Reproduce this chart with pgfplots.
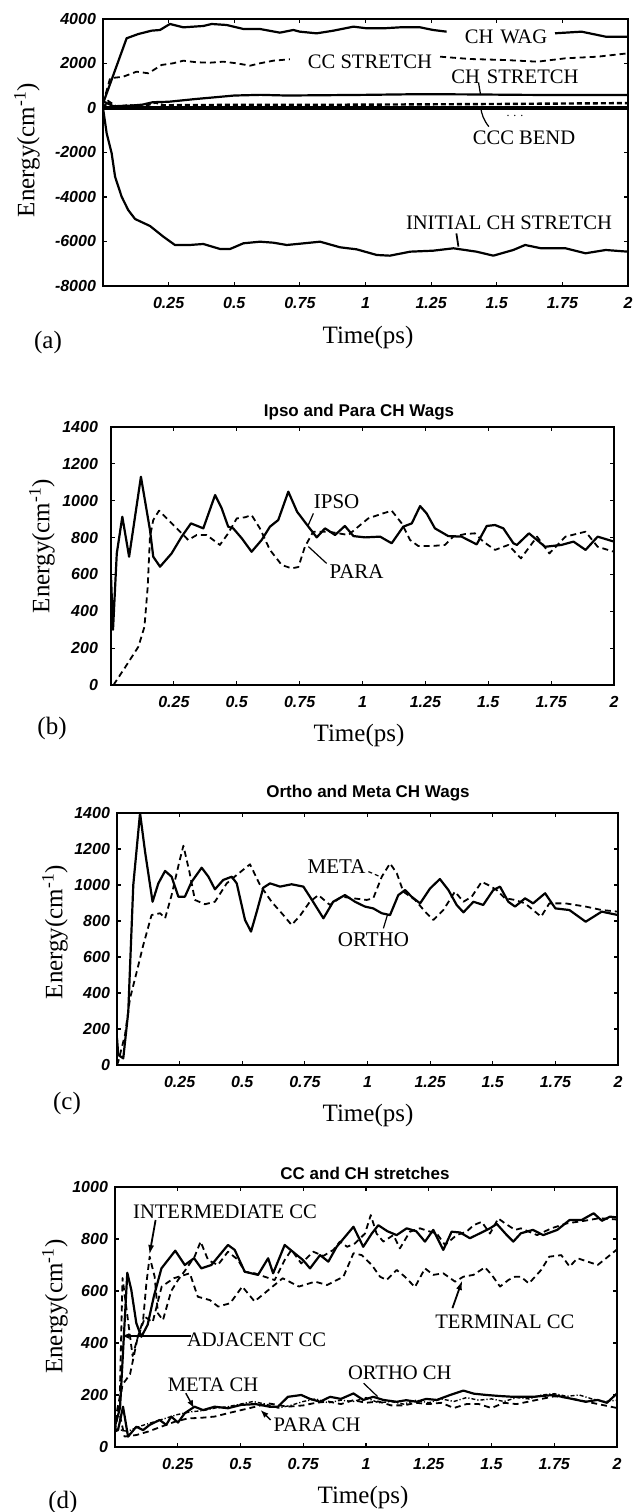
\documentclass[border=0pt]{standalone}
\usepackage{fontspec}
\setmainfont{Liberation Serif}
\newfontfamily\tickfont{Liberation Sans}
\usepackage{pgfplots}
\pgfplotsset{compat=1.18}
\usetikzlibrary{arrows.meta}

\newcommand{\annot}{\fontsize{10.3}{12}\selectfont}
\newcommand{\annotb}{\fontsize{10.5}{12}\selectfont}
\newcommand{\axlab}{\fontsize{12.5}{14}\selectfont}
\newcommand{\ttl}{\tickfont\bfseries\fontsize{8.5}{10}\selectfont}

\pgfplotsset{
  panel/.style={
    scale only axis, anchor=south west,
    xmin=0, xmax=2,
    xtick={0.25,0.5,0.75,1,1.25,1.5,1.75,2},
    xticklabels={0.25,0.5,0.75,1,1.25,1.5,1.75,2},
    tick align=inside, major tick length=2pt,
    axis line style={line width=1pt},
    every tick/.style={black, line width=0.6pt},
    tick label style={font=\tickfont\fontsize{8}{9}\selectfont\bfseries\itshape},
    xticklabel style={yshift=-2pt},
  },
  solidc/.style={black, line width=1.1pt, line join=round},
  dashc/.style={black, line width=0.9pt, line join=round, dash pattern=on 3pt off 2pt},
}

\begin{document}
\begin{tikzpicture}
\path[use as bounding box] (0,0) rectangle (316.5pt,756pt);

% ---------- (a)
\begin{axis}[panel, at={(51.5pt,613pt)}, width=262.5pt, height=133.5pt,
  ymin=-8000, ymax=4000,
  ytick={-8000,-6000,-4000,-2000,0,2000,4000},
  yticklabels={-8000,-6000,-4000,-2000,0,2000,4000}]
\addplot[solidc] coordinates {(0,200) (0.09,3133) (0.135,3326) (0.185,3475) (0.217,3505) (0.255,3775) (0.306,3625) (0.382,3685) (0.414,3775) (0.471,3730) (0.535,3550) (0.598,3550) (0.674,3385) (0.725,3505) (0.75,3430) (0.814,3355) (0.878,3475) (0.954,3655) (1.005,3580) (1.068,3580) (1.131,3625) (1.208,3625) (1.258,3505) (1.309,3430)};
\addplot[solidc] coordinates {(1.722,3357) (1.823,3430) (1.915,3205) (2.0,3205)};
\addplot[dashc] coordinates {(0,200) (0.027,1335) (0.077,1407) (0.128,1632) (0.173,1560) (0.223,1933) (0.267,2009) (0.306,2126) (0.357,2054) (0.408,2036) (0.458,2081) (0.509,2009) (0.56,1901) (0.598,2009) (0.649,2126) (0.712,2189)};
\addplot[dashc] coordinates {(1.284,2306) (1.4,2200) (1.531,2157) (1.655,2081) (1.762,2233) (1.885,2306) (2.0,2458)};
\addplot[solidc] coordinates {(0,300) (0.04,80) (0.1,100) (0.15,150) (0.19,260) (0.25,280) (0.35,400) (0.5,560) (0.6,590) (0.7,560) (0.8,570) (0.9,580) (1.0,590) (1.2,620) (1.4,610) (1.6,590) (1.8,580) (2.0,580)};
\addplot[black, line width=1.2pt, dash pattern=on 2.5pt off 1.5pt] coordinates {(0,0) (0.02,300) (0.05,60) (0.1,120) (0.15,60) (0.2,250) (0.23,120) (0.3,130) (0.5,140) (0.7,140) (1.0,150) (1.25,165) (1.5,180) (1.75,200) (2.0,220)};
\addplot[black, line width=1.6pt] coordinates {(0,0) (2,0)};
\addplot[solidc] coordinates {(0,0) (0.014,-1137) (0.033,-2036) (0.046,-3088) (0.071,-3987) (0.096,-4584) (0.122,-4989) (0.179,-5303) (0.23,-5784) (0.274,-6157) (0.331,-6157) (0.382,-6112) (0.446,-6337) (0.484,-6337) (0.535,-6081) (0.598,-6009) (0.649,-6054) (0.7,-6157) (0.75,-6100) (0.827,-6009) (0.903,-6261) (0.966,-6352) (1.043,-6607) (1.093,-6637) (1.17,-6458) (1.258,-6413) (1.335,-6306) (1.423,-6458) (1.487,-6637) (1.563,-6382) (1.608,-6157) (1.669,-6306) (1.762,-6306) (1.838,-6530) (1.915,-6382) (2.0,-6458)};
\end{axis}
\node[font=\annot] at (253pt,737.5pt) {CH\,\,WAG};
\node[font=\annot] at (185pt,725pt) {CC STRETCH};
\node[font=\annot] at (257.5pt,717.5pt) {CH\,\,STRETCH};
\draw[line width=0.6pt] (239.3pt,714.5pt) -- (240.3pt,708.5pt);
\node[font=\annot] at (262pt,687pt) {CCC BEND};
\draw[line width=0.6pt] (244.4pt,692.7pt) to[bend left=15] (240.3pt,702.7pt);
\node[font=\fontsize{6}{6}\selectfont] at (257.5pt,698pt) {. . .};
\node[font=\annot] at (254.5pt,644.5pt) {INITIAL CH STRETCH};
\draw[line width=0.9pt] (228.2pt,639.3pt) -- (229.2pt,632.7pt);
\node[font=\axlab] at (184pt,587.5pt) {Time(ps)};
\node[font=\axlab] at (24pt,585pt) {(a)};
\node[font=\axlab, rotate=90] at (13.5pt,681pt) {Energy(cm\textsuperscript{-1})};

% ---------- (b)
\begin{axis}[panel, at={(55.5pt,413.5pt)}, width=251.5pt, height=129pt,
  ymin=0, ymax=1400,
  ytick={0,200,400,600,800,1000,1200,1400},
  yticklabels={0,200,400,600,800,1000,1200,1400},
  yticklabel style={xshift=-3pt}]
\addplot[solidc] coordinates {(0,590) (0.008,300) (0.023,714) (0.045,913) (0.072,696) (0.119,1130) (0.155,841) (0.168,696) (0.195,642) (0.241,714) (0.281,805) (0.318,877) (0.367,850) (0.414,1031) (0.44,959) (0.466,859) (0.486,850) (0.52,796) (0.559,723) (0.599,787) (0.632,859) (0.665,895) (0.705,1049) (0.74,940) (0.785,859) (0.818,801) (0.851,850) (0.891,814) (0.93,863) (0.964,808) (1.01,801) (1.07,805) (1.116,769) (1.162,859) (1.196,877) (1.229,971) (1.255,931) (1.288,850) (1.341,808) (1.394,805) (1.454,763) (1.494,863) (1.527,868) (1.56,850) (1.6,769) (1.614,760) (1.662,823) (1.726,750) (1.791,760) (1.839,778) (1.887,733) (1.935,805) (2.0,778)};
\addplot[dashc] coordinates {(0.01,0) (0.023,27) (0.062,108) (0.109,208) (0.133,316) (0.146,533) (0.155,805) (0.168,895) (0.191,946) (0.228,895) (0.268,841) (0.307,787) (0.341,814) (0.38,814) (0.433,760) (0.466,823) (0.5,904) (0.533,910) (0.559,922) (0.592,850) (0.632,733) (0.679,651) (0.718,633) (0.745,640) (0.771,750) (0.804,832) (0.864,832) (0.944,814) (0.983,859) (1.023,904) (1.07,926) (1.116,946) (1.156,877) (1.189,787) (1.222,754) (1.275,754) (1.328,760) (1.361,805) (1.408,819) (1.447,823) (1.48,778) (1.527,733) (1.58,760) (1.63,687) (1.694,805) (1.743,714) (1.807,805) (1.887,832) (1.935,750) (2.0,723)};
\end{axis}
\node[font=\ttl] at (179.5pt,550pt) {Ipso and Para CH Wags};
\node[font=\annotb] at (168.3pt,505.2pt) {IPSO};
\draw[line width=0.6pt] (156.7pt,499.3pt) -- (153.8pt,492.7pt);
\node[font=\annotb] at (178.3pt,470.2pt) {PARA};
\draw[line width=0.6pt] (163.3pt,474.3pt) -- (154.2pt,482.7pt);
\node[font=\axlab] at (179.5pt,388.5pt) {Time(ps)};
\node[font=\axlab] at (26pt,392pt) {(b)};
\node[font=\axlab, rotate=90] at (21pt,483pt) {Energy(cm\textsuperscript{-1})};

% ---------- (c)
\begin{axis}[panel, at={(58.5pt,223.5pt)}, width=250.5pt, height=126pt,
  ymin=0, ymax=1400,
  ytick={0,200,400,600,800,1000,1200,1400},
  yticklabels={0,200,400,600,800,1000,1200,1400}]
\addplot[solidc] coordinates {(0,150) (0.005,56) (0.025,37) (0.045,296) (0.065,1000) (0.092,1400) (0.112,1185) (0.142,907) (0.165,1009) (0.192,1078) (0.218,1046) (0.245,935) (0.271,935) (0.298,1018) (0.338,1096) (0.365,1046) (0.391,976) (0.424,1028) (0.458,1046) (0.478,1009) (0.511,806) (0.535,741) (0.558,852) (0.584,985) (0.611,1009) (0.651,991) (0.697,1004) (0.744,991) (0.77,935) (0.824,815) (0.863,907) (0.91,944) (0.95,907) (0.99,880) (1.023,870) (1.057,843) (1.09,833) (1.123,944) (1.15,972) (1.176,935) (1.21,898) (1.25,981) (1.289,1033) (1.323,972) (1.356,889) (1.383,848) (1.423,907) (1.462,889) (1.502,972) (1.529,991) (1.562,907) (1.589,880) (1.629,926) (1.661,898) (1.709,954) (1.75,870) (1.806,861) (1.871,796) (1.935,852) (2.0,833)};
\addplot[dashc] coordinates {(0,0) (0.005,19) (0.032,167) (0.052,370) (0.079,519) (0.105,667) (0.138,833) (0.172,843) (0.192,815) (0.218,944) (0.249,1130) (0.265,1218) (0.289,1074) (0.311,917) (0.351,893) (0.391,907) (0.438,1009) (0.478,1056) (0.531,1115) (0.571,1000) (0.617,907) (0.664,833) (0.697,778) (0.731,830) (0.77,907) (0.804,944) (0.85,889) (0.897,935) (0.943,926) (0.997,917) (1.023,926) (1.057,1046) (1.09,1120) (1.117,1065) (1.143,963) (1.19,917) (1.23,852) (1.263,806) (1.303,861) (1.349,963) (1.383,907) (1.416,935) (1.456,1018) (1.482,1000) (1.516,972) (1.549,926) (1.589,917) (1.629,898) (1.693,824) (1.726,898) (1.79,898) (1.871,880) (1.935,861) (2.0,852)};
\end{axis}
\node[font=\ttl] at (184pt,359.5pt) {Ortho and Meta CH Wags};
\node[font=\annotb] at (168.3pt,322.7pt) {META};
\draw[line width=0.6pt, dash pattern=on 2pt off 1.5pt] (184.2pt,320.2pt) -- (190pt,317.7pt);
\node[font=\annotb] at (186.7pt,286pt) {ORTHO};
\draw[line width=0.6pt] (191.7pt,291.8pt) -- (193.7pt,298.5pt);
\node[font=\axlab] at (184pt,198.5pt) {Time(ps)};
\node[font=\axlab] at (33.5pt,204.5pt) {(c)};
\node[font=\axlab, rotate=90] at (27.5pt,290pt) {Energy(cm\textsuperscript{-1})};

% ---------- (d)
\begin{axis}[panel, at={(57.5pt,32.5pt)}, width=251pt, height=130pt,
  ymin=0, ymax=1000,
  ytick={0,200,400,600,800,1000},
  yticklabels={0,200,400,600,800,1000}]
\addplot[solidc] coordinates {(0,80) (0.02,150) (0.035,420) (0.049,670) (0.065,604) (0.085,476) (0.105,424) (0.13,470) (0.155,580) (0.185,687) (0.24,755) (0.278,700) (0.315,726) (0.344,687) (0.384,700) (0.45,777) (0.477,758) (0.517,674) (0.57,662) (0.61,726) (0.63,668) (0.676,777) (0.716,745) (0.749,719) (0.777,687) (0.817,738) (0.85,713) (0.883,770) (0.95,847) (0.989,770) (1.023,821) (1.049,853) (1.085,830) (1.122,815) (1.162,841) (1.2,830) (1.235,790) (1.268,835) (1.308,758) (1.341,828) (1.375,825) (1.414,803) (1.45,820) (1.494,841) (1.521,858) (1.561,815) (1.587,790) (1.617,822) (1.665,835) (1.706,815) (1.762,835) (1.811,873) (1.859,873) (1.907,899) (1.94,870) (1.972,886) (2.0,883)};
\addplot[dashc] coordinates {(0,100) (0.019,193) (0.03,650) (0.05,500) (0.07,350) (0.09,420) (0.112,488) (0.125,629) (0.138,732) (0.158,655) (0.171,514) (0.191,488) (0.224,600) (0.251,642) (0.28,680) (0.317,732) (0.341,790) (0.371,719) (0.41,700) (0.45,751) (0.49,720) (0.517,674) (0.557,668) (0.596,655) (0.636,642) (0.676,719) (0.703,758) (0.742,706) (0.79,751) (0.83,735) (0.87,758) (0.896,790) (0.925,770) (0.956,783) (0.996,821) (1.019,892) (1.042,821) (1.069,790) (1.109,815) (1.135,764) (1.175,828) (1.215,841) (1.25,830) (1.282,821) (1.315,777) (1.361,815) (1.401,828) (1.428,853) (1.461,866) (1.494,821) (1.527,879) (1.554,860) (1.594,835) (1.617,841) (1.682,815) (1.738,841) (1.8,860) (1.87,870) (1.93,880) (2.0,875)};
\addplot[dashc] coordinates {(0,60) (0.03,240) (0.06,280) (0.09,420) (0.12,500) (0.15,480) (0.186,617) (0.234,649) (0.298,668) (0.33,578) (0.378,565) (0.411,540) (0.459,553) (0.507,617) (0.556,560) (0.604,598) (0.668,649) (0.733,617) (0.797,636) (0.845,623) (0.91,655) (0.95,745) (0.983,738) (1.023,700) (1.056,655) (1.082,642) (1.122,681) (1.155,655) (1.195,615) (1.235,687) (1.268,662) (1.308,668) (1.355,636) (1.388,655) (1.428,662) (1.474,691) (1.501,662) (1.534,617) (1.567,642) (1.594,655) (1.617,655) (1.649,629) (1.698,681) (1.73,732) (1.778,738) (1.811,694) (1.843,726) (1.923,700) (1.972,738) (2.0,760)};
\addplot[solidc] coordinates {(0,60) (0.012,65) (0.032,155) (0.052,40) (0.085,78) (0.112,65) (0.138,85) (0.178,104) (0.204,85) (0.224,117) (0.251,94) (0.278,130) (0.317,155) (0.351,142) (0.397,155) (0.45,149) (0.503,162) (0.56,165) (0.616,155) (0.649,155) (0.689,193) (0.742,200) (0.777,185) (0.817,174) (0.857,193) (0.9,185) (0.95,206) (0.989,181) (1.029,193) (1.069,181) (1.122,174) (1.16,180) (1.202,174) (1.24,185) (1.282,181) (1.335,200) (1.388,217) (1.43,205) (1.481,200) (1.534,196) (1.587,193) (1.665,193) (1.746,200) (1.811,187) (1.875,174) (1.923,181) (1.96,170) (2.0,206)};
\addplot[dashc] coordinates {(0.02,120) (0.038,40) (0.085,46) (0.131,59) (0.184,78) (0.238,97) (0.291,110) (0.34,112) (0.397,117) (0.45,130) (0.503,142) (0.56,155) (0.61,168) (0.689,155) (0.75,160) (0.8,170) (0.85,175) (0.9,165) (0.95,180) (1.0,170) (1.05,175) (1.1,160) (1.15,160) (1.2,170) (1.25,165) (1.3,170) (1.35,150) (1.4,165) (1.45,165) (1.5,150) (1.55,170) (1.6,165) (1.65,175) (1.7,185) (1.75,195) (1.8,190) (1.85,180) (1.9,170) (1.95,160) (2.0,150)};
\addplot[black, line width=0.7pt, dash pattern=on 2pt off 1pt on 0.6pt off 1pt] coordinates {(0,70) (0.05,60) (0.1,80) (0.15,95) (0.2,110) (0.25,125) (0.3,135) (0.35,140) (0.4,150) (0.45,155) (0.5,165) (0.55,175) (0.6,165) (0.65,150) (0.7,160) (0.75,175) (0.8,185) (0.85,170) (0.9,180) (0.95,175) (1.0,190) (1.05,170) (1.1,175) (1.15,165) (1.2,180) (1.25,170) (1.3,185) (1.35,175) (1.4,190) (1.45,180) (1.5,185) (1.55,175) (1.6,190) (1.65,185) (1.7,200) (1.75,205) (1.8,195) (1.85,200) (1.9,185) (1.95,175) (2.0,180)};
\end{axis}
\node[font=\ttl] at (182.5pt,169.5pt) {CC and CH stretches};
\node[font=\annot] at (112.5pt,150.2pt) {INTERMEDIATE CC};
\draw[line width=0.9pt, -{Latex[length=5pt,width=3pt]}] (77.8pt,146pt) -- (74.7pt,128.5pt);
\node[font=\annot] at (128.3pt,86pt) {ADJACENT CC};
\draw[line width=1pt, -{Latex[length=4pt,width=3pt]}] (95.7pt,88pt) -- (60.7pt,88pt);
\node[font=\annot] at (252.4pt,95.2pt) {TERMINAL CC};
\draw[line width=0.9pt, -{Latex[length=5pt,width=3pt]}] (226.2pt,101.9pt) -- (231.2pt,116pt);
\node[font=\annot] at (199.9pt,69.4pt) {ORTHO CH};
\draw[line width=0.6pt] (181.8pt,64.4pt) -- (188.8pt,57.7pt);
\node[font=\annot] at (106.5pt,63.5pt) {META CH};
\draw[line width=0.7pt, -{Latex[length=4pt,width=3pt]}] (92.9pt,59.4pt) -- (97pt,51.9pt);
\node[font=\annot] at (158.5pt,43.5pt) {PARA CH};
\draw[line width=0.7pt, -{Latex[length=4pt,width=3pt]}] (135.3pt,46pt) -- (130.3pt,51pt);
\node[font=\axlab] at (181.5pt,7.5pt) {Time(ps)};
\node[font=\axlab] at (31.5pt,5pt) {(d)};
\node[font=\axlab, rotate=90] at (27.5pt,102.7pt) {Energy(cm\textsuperscript{-1})};
\end{tikzpicture}
\end{document}
